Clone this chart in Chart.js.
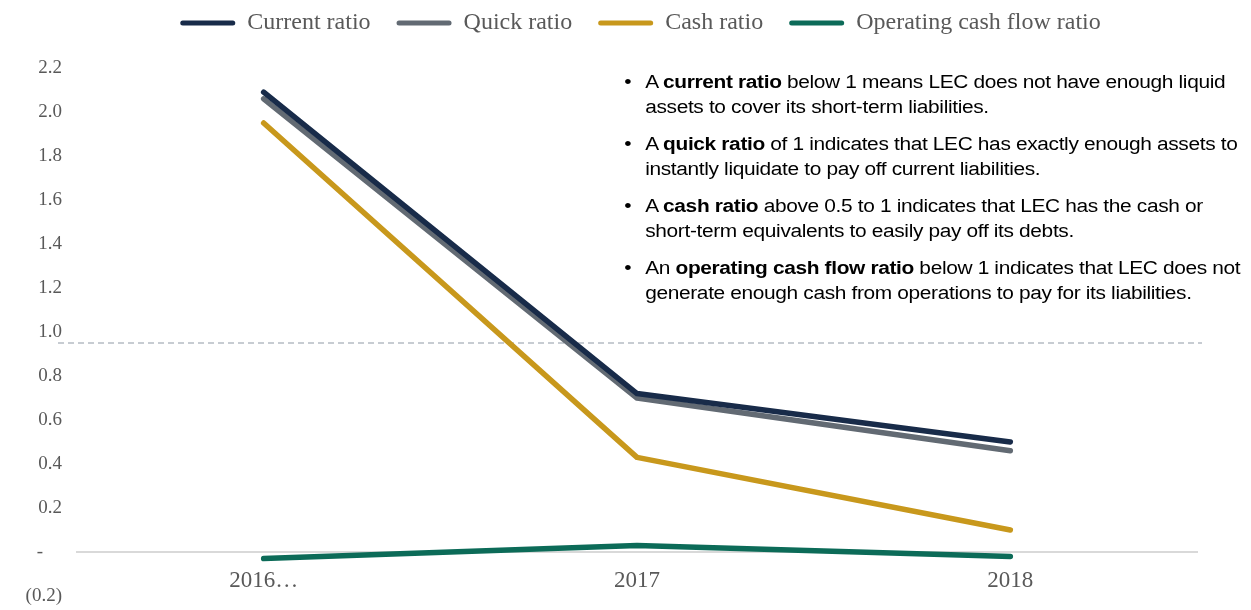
<!DOCTYPE html>
<html>
<head>
<meta charset="utf-8">
<script src="https://cdn.jsdelivr.net/npm/chart.js@4.4.1/dist/chart.umd.min.js"></script>
<style>
  html, body { margin: 0; padding: 0; background: #ffffff; }
  #wrap { position: relative; width: 1251px; height: 610px; overflow: hidden; }
  #notes {
    position: absolute; left: 622px; top: 70px; width: 560px;
    font-family: "Liberation Sans", Arial, sans-serif; font-size: 18px;
    line-height: 25px; color: #000; white-space: nowrap; letter-spacing: -0.3px;
    transform: scaleX(1.16); transform-origin: 0 0;
  }
  #notes .p { position: relative; padding-left: 20px; margin-bottom: 12px; }
  #notes .p::before { content: "\2022"; position: absolute; left: 2px; top: 0; }
</style>
</head>
<body>
<div id="wrap">
  <canvas id="c" width="1251" height="610"></canvas>
  <div id="notes">
    <div class="p">A <b>current ratio</b> below 1 means LEC does not have enough liquid<br>assets to cover its short-term liabilities.</div>
    <div class="p">A <b>quick ratio</b> of 1 indicates that LEC has exactly enough assets to<br>instantly liquidate to pay off current liabilities.</div>
    <div class="p">A <b>cash ratio</b> above 0.5 to 1 indicates that LEC has the cash or<br>short-term equivalents to easily pay off its debts.</div>
    <div class="p">An <b>operating cash flow ratio</b> below 1 indicates that LEC does not<br>generate enough cash from operations to pay for its liabilities.</div>
  </div>
</div>
<script>
const categories = ["2016…", "2017", "2018"];
const currentRatio = [2.09, 0.72, 0.50];
const quickRatio = [2.06, 0.70, 0.46];
const cashRatio = [1.95, 0.43, 0.10];
const operatingCashFlowRatio = [-0.03, 0.03, -0.02];
const thresholdValue = 0.95;
const yTicks = [-0.2, 0, 0.2, 0.4, 0.6, 0.8, 1.0, 1.2, 1.4, 1.6, 1.8, 2.0, 2.2];

const serif = "'Liberation Serif', 'Times New Roman', serif";

function ds(label, data, color) {
  return {
    label, data, borderColor: color, backgroundColor: color,
    borderWidth: 5.5, pointRadius: 0, pointHoverRadius: 0, tension: 0,
    borderCapStyle: 'round', borderJoinStyle: 'round', fill: false
  };
}

const thresholdPlugin = {
  id: 'threshold',
  afterLayout(chart) {
    // move the legend row up and to the right to match the source layout
    const lg = chart.legend;
    lg.top -= 23; lg.bottom -= 23;
    lg.left += 42; lg.right += 42;
  },
  beforeDatasetsDraw(chart) {
    const y = chart.scales.y.getPixelForValue(thresholdValue);
    const {left, right} = chart.chartArea;
    const ctx = chart.ctx;
    ctx.save();
    ctx.strokeStyle = '#b5bcc4';
    ctx.lineWidth = 1.5;
    ctx.setLineDash([6, 4]);
    ctx.beginPath();
    ctx.moveTo(left - 19, y);
    ctx.lineTo(right + 5, y);
    ctx.stroke();
    ctx.restore();
  }
};

new Chart(document.getElementById('c'), {
  type: 'line',
  data: {
    labels: categories,
    datasets: [
      ds('Current ratio', currentRatio, '#182B49'),
      ds('Quick ratio', quickRatio, '#626A73'),
      ds('Cash ratio', cashRatio, '#C8981C'),
      ds('Operating cash flow ratio', operatingCashFlowRatio, '#0C6B58')
    ]
  },
  options: {
    responsive: false,
    animation: false,
    layout: { padding: { left: 0, right: 54, top: 8, bottom: 14 } },
    plugins: {
      tooltip: { enabled: false },
      legend: {
        position: 'top',
        labels: {
          font: { family: serif, size: 24 },
          color: '#595959',
          boxWidth: 55,
          boxHeight: 5,
          padding: 26,
          useBorderRadius: true,
          borderRadius: 2.5,
          generateLabels(chart) {
            return chart.data.datasets.map((d, i) => ({
              text: d.label, fillStyle: d.borderColor, strokeStyle: d.borderColor,
              lineWidth: 0, hidden: false, datasetIndex: i, fontColor: '#595959',
              borderRadius: 2.5
            }));
          }
        }
      }
    },
    scales: {
      x: {
        type: 'category',
        offset: true,
        position: { y: 0 },
        afterFit(scale) { scale.height = 0; },
        grid: { display: false, drawTicks: false },
        border: { display: true, color: '#d9d9d9', width: 2 },
        ticks: { font: { family: serif, size: 23 }, color: '#595959', padding: 15, maxRotation: 0, autoSkip: false }
      },
      y: {
        min: -0.2, max: 2.2,
        afterBuildTicks(scale) { scale.ticks = yTicks.map(v => ({ value: v })); },
        afterFit(scale) { scale.width = 77; scale.paddingTop = 0; scale.paddingBottom = 0; },
        grid: { display: false, drawTicks: false },
        border: { display: false },
        ticks: {
          font: { family: serif, size: 19 }, color: '#595959', padding: 15,
          callback(v) {
            if (Math.abs(v) < 1e-9) return '-    ';
            if (v < 0) return '(' + Math.abs(v).toFixed(1) + ')';
            return v.toFixed(1);
          }
        }
      }
    }
  },
  plugins: [thresholdPlugin]
});
</script>
</body>
</html>
